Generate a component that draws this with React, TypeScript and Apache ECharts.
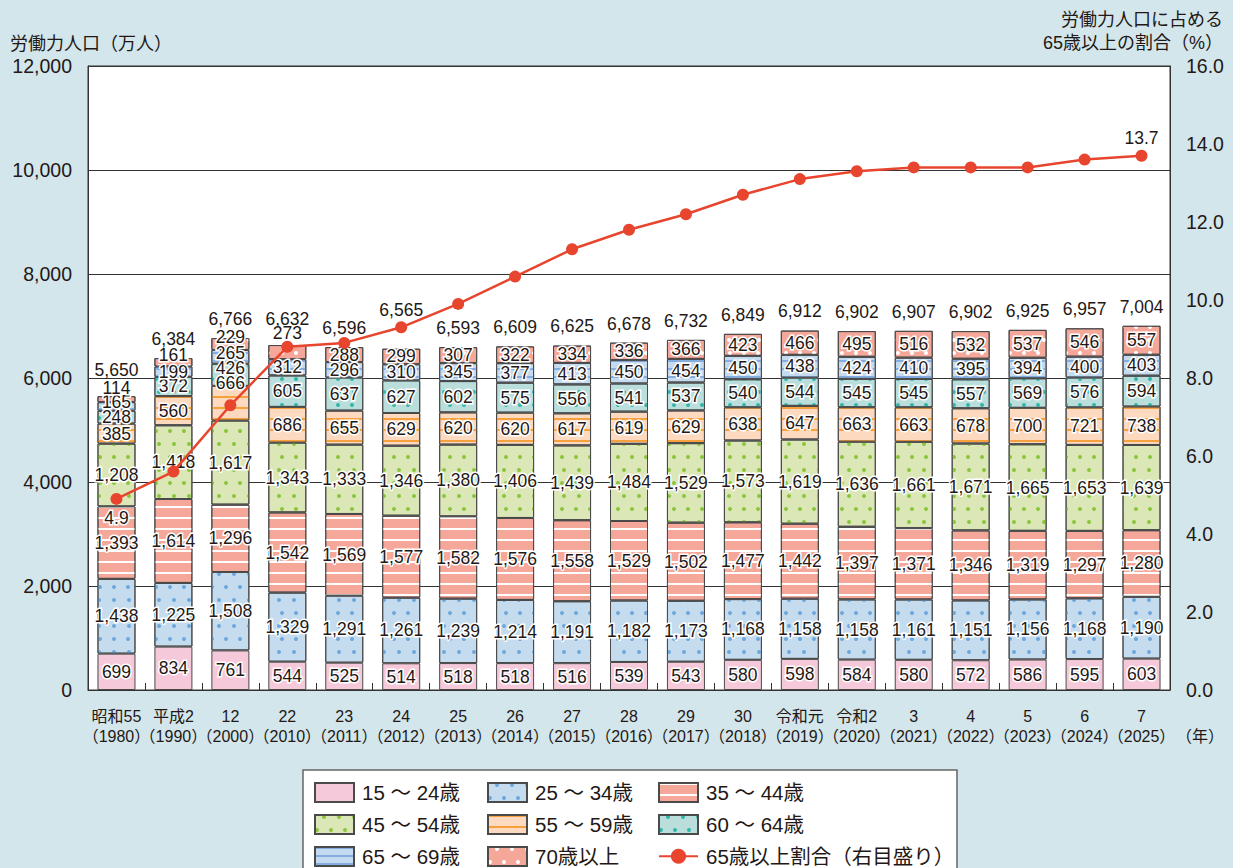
import React, { useEffect, useRef } from 'react';
import * as echarts from 'echarts';

const categories = [
  '昭和55\n（1980）', '平成2\n（1990）', '12\n（2000）', '22\n（2010）', '23\n（2011）', '24\n（2012）',
  '25\n（2013）', '26\n（2014）', '27\n（2015）', '28\n（2016）', '29\n（2017）', '30\n（2018）',
  '令和元\n（2019）', '令和2\n（2020）', '3\n（2021）', '4\n（2022）', '5\n（2023）', '6\n（2024）', '7\n（2025）',
];

const age15to24 = [699, 834, 761, 544, 525, 514, 518, 518, 516, 539, 543, 580, 598, 584, 580, 572, 586, 595, 603];
const age25to34 = [1438, 1225, 1508, 1329, 1291, 1261, 1239, 1214, 1191, 1182, 1173, 1168, 1158, 1158, 1161, 1151, 1156, 1168, 1190];
const age35to44 = [1393, 1614, 1296, 1542, 1569, 1577, 1582, 1576, 1558, 1529, 1502, 1477, 1442, 1397, 1371, 1346, 1319, 1297, 1280];
const age45to54 = [1208, 1418, 1617, 1343, 1333, 1346, 1380, 1406, 1439, 1484, 1529, 1573, 1619, 1636, 1661, 1671, 1665, 1653, 1639];
const age55to59 = [385, 560, 666, 686, 655, 629, 620, 620, 617, 619, 629, 638, 647, 663, 663, 678, 700, 721, 738];
const age60to64 = [248, 372, 426, 605, 637, 627, 602, 575, 556, 541, 537, 540, 544, 545, 545, 557, 569, 576, 594];
const age65to69 = [165, 199, 265, 312, 296, 310, 345, 377, 413, 450, 454, 450, 438, 424, 410, 395, 394, 400, 403];
const age70plus = [114, 161, 229, 273, 288, 299, 307, 322, 334, 336, 366, 423, 466, 495, 516, 532, 537, 546, 557];
const totals = [5650, 6384, 6766, 6632, 6596, 6565, 6593, 6609, 6625, 6678, 6732, 6849, 6912, 6902, 6907, 6902, 6925, 6957, 7004];
const ratio65plus = [4.9, 5.6, 7.3, 8.8, 8.9, 9.3, 9.9, 10.6, 11.3, 11.8, 12.2, 12.7, 13.1, 13.3, 13.4, 13.4, 13.4, 13.6, 13.7];

const seriesNames = ['15 ～ 24歳', '25 ～ 34歳', '35 ～ 44歳', '45 ～ 54歳', '55 ～ 59歳', '60 ～ 64歳', '65 ～ 69歳', '70歳以上'];
const lineName = '65歳以上割合（右目盛り）';

const FONT = "'Liberation Sans', 'Noto Sans CJK JP', sans-serif";
const TEXT = '#231815';

const dots = (color: string) => ({
  symbol: 'circle',
  symbolSize: 1,
  color,
  dashArrayX: [[3.2, 10], [0, 6.6, 3.2, 3.4]],
  dashArrayY: [3.2, 8.3],
});
const lines = (color: string, w: number, gap: number) => ({
  symbol: 'rect',
  symbolSize: 1,
  color,
  dashArrayX: [1, 0],
  dashArrayY: [w, gap],
});

const styles = [
  { color: '#f6c9da', decal: null },
  { color: '#c5dcef', decal: dots('#6fa8dc') },
  { color: '#f5a89a', decal: lines('#ffffff', 2, 8.5) },
  { color: '#dbe7b6', decal: dots('#8cc63f') },
  { color: '#fdd9bf', decal: lines('#f7a13e', 1.6, 8.6) },
  { color: '#b9dedb', decal: dots('#35b5ab') },
  { color: '#c4daf0', decal: lines('#86ade0', 1.3, 5.5) },
  { color: '#f5a89a', decal: dots('#ffffff') },
];

// label nudges (series-category) to avoid overlap on thin segments
const labelNudge: Record<string, number> = {
  '7-0': -11, '6-0': -4,
  '7-1': -7,
  '7-2': -7, '6-2': -4, '5-2': -7, '4-2': -20,
  '7-3': -19,
};
const totalNudge: Record<number, number> = { 0: -7, 3: -7, 5: -19 };

export default function App() {
  const ref = useRef<HTMLDivElement>(null);
  useEffect(() => {
    if (!ref.current) return;
    const chart = echarts.init(ref.current, null, { renderer: 'svg' });
    const allValues = [age15to24, age25to34, age35to44, age45to54, age55to59, age60to64, age65to69, age70plus];
    const fmt = (v: number) => Number(v).toLocaleString('en-US');

    const barSeries = allValues.map((vals, s) => ({
      name: seriesNames[s],
      type: 'bar',
      stack: 'labor',
      barWidth: 38,
      z: 2,
      itemStyle: {
        color: styles[s].color,
        borderColor: '#4a4a4a',
        borderWidth: 1,
        ...(styles[s].decal ? { decal: styles[s].decal } : {}),
      },
      label: {
        show: true,
        position: 'inside',
        fontSize: 17.5,
        fontFamily: FONT,
        color: TEXT,
        textBorderColor: '#fff',
        textBorderWidth: 3,
        formatter: (p: any) => fmt(p.value),
      },
      emphasis: { disabled: true },
      data: vals.map((v, i) => {
        const dy = labelNudge[`${s}-${i}`];
        return dy ? { value: v, label: { offset: [0, dy] } } : v;
      }),
    }));

    const legendBase = {
      orient: 'vertical',
      top: 782,
      padding: 0,
      itemWidth: 39,
      itemHeight: 19,
      itemGap: 11,
      selectedMode: false,
      z: 10,
      textStyle: { fontSize: 20.5, lineHeight: 19, color: TEXT, fontFamily: FONT, padding: [0, 0, 0, 3] },
    };
    const rectItem = (name: string) => ({ name, icon: 'rect' });

    chart.setOption({
      animation: false,
      backgroundColor: '#d3e6ec',
      textStyle: { fontFamily: FONT },
      grid: {
        left: 88, right: 63, top: 66, bottom: 178,
        show: true, backgroundColor: '#fff', borderColor: '#333', borderWidth: 1,
      },
      legend: [
        { ...legendBase, left: 314, data: [rectItem(seriesNames[0]), rectItem(seriesNames[3]), rectItem(seriesNames[6])] },
        { ...legendBase, left: 487, data: [rectItem(seriesNames[1]), rectItem(seriesNames[4]), rectItem(seriesNames[7])] },
        { ...legendBase, left: 658, data: [rectItem(seriesNames[2]), rectItem(seriesNames[5]), { name: lineName }] },
      ],
      xAxis: {
        type: 'category',
        data: categories,
        axisLine: { show: true, lineStyle: { color: '#333', width: 1 } },
        axisTick: { show: true, inside: true, length: 7, lineStyle: { color: '#333' } },
        axisLabel: { interval: 0, fontSize: 16, lineHeight: 20, margin: 16, color: TEXT, fontFamily: FONT },
      },
      yAxis: [
        {
          type: 'value', min: 0, max: 12000, interval: 2000,
          axisLine: { show: true, lineStyle: { color: '#333' } },
          axisTick: { show: false },
          splitLine: { show: true, lineStyle: { color: '#333', width: 1 } },
          axisLabel: { fontSize: 19.5, color: TEXT, margin: 16, fontFamily: FONT, formatter: (v: number) => fmt(v) },
        },
        {
          type: 'value', min: 0, max: 16, interval: 2,
          axisLine: { show: true, lineStyle: { color: '#333' } },
          axisTick: { show: false },
          splitLine: { show: false },
          axisLabel: { fontSize: 19.5, color: TEXT, margin: 16, fontFamily: FONT, formatter: (v: number) => v.toFixed(1) },
        },
      ],
      graphic: [
        { type: 'rect', z: 1, shape: { x: 303, y: 770, width: 654, height: 130 }, style: { fill: '#fff', stroke: '#666', lineWidth: 1.5 } },
        { type: 'text', x: 10, y: 44, style: { text: '労働力人口（万人）', fontSize: 18, fontFamily: FONT, fill: TEXT, align: 'left', verticalAlign: 'middle' } },
        { type: 'text', x: 1223, y: 20, style: { text: '労働力人口に占める', fontSize: 18, fontFamily: FONT, fill: TEXT, align: 'right', verticalAlign: 'middle' } },
        { type: 'text', x: 1223, y: 43, style: { text: '65歳以上の割合（%）', fontSize: 18, fontFamily: FONT, fill: TEXT, align: 'right', verticalAlign: 'middle' } },
        { type: 'text', x: 1200, y: 736, style: { text: '（年）', fontSize: 16, fontFamily: FONT, fill: TEXT, align: 'center', verticalAlign: 'middle' } },
      ],
      series: [
        ...barSeries,
        {
          name: 'totals',
          type: 'scatter',
          symbolSize: 1,
          z: 4,
          itemStyle: { color: 'rgba(0,0,0,0)', opacity: 1 },
          label: {
            show: true, position: 'top', distance: 10, fontSize: 17.5, color: TEXT, fontFamily: FONT,
            formatter: (p: any) => fmt(p.value),
          },
          emphasis: { disabled: true },
          data: totals.map((v, i) => {
            const dy = totalNudge[i];
            return dy ? { value: v, label: { offset: [0, dy] } } : v;
          }),
        },
        {
          name: lineName,
          type: 'line',
          yAxisIndex: 1,
          z: 3,
          symbol: 'circle',
          symbolSize: 12,
          lineStyle: { color: '#e8452f', width: 2.5 },
          itemStyle: { color: '#e8452f' },
          emphasis: { disabled: true },
          data: ratio65plus.map((v, i) => {
            if (i === 0) return { value: v, label: { show: true, position: 'bottom', distance: 4 } };
            if (i === ratio65plus.length - 1) return { value: v, label: { show: true, position: 'top', distance: 3 } };
            return v;
          }),
          label: {
            show: false, fontSize: 17.5, color: TEXT, fontFamily: FONT,
            textBorderColor: '#fff', textBorderWidth: 3,
            formatter: (p: any) => Number(p.value).toFixed(1),
          },
        },
      ],
    });
    return () => chart.dispose();
  }, []);

  return <div ref={ref} style={{ position: 'fixed', left: 0, top: 0, width: 1233, height: 868 }} />;
}
